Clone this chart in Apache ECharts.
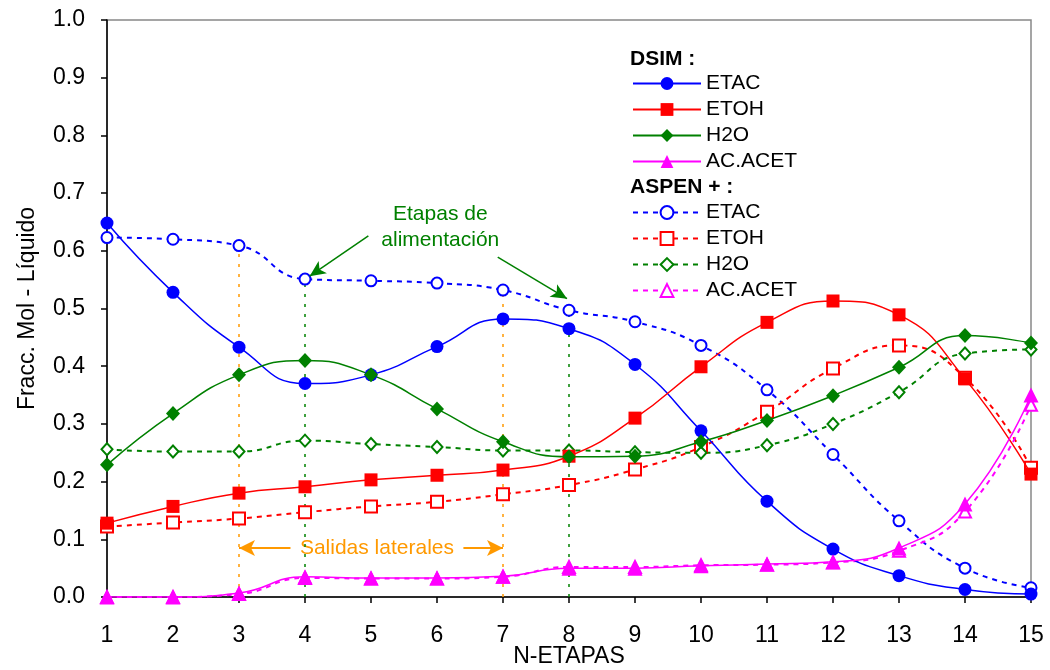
<!DOCTYPE html>
<html>
<head>
<meta charset="utf-8">
<script src="https://cdn.jsdelivr.net/npm/echarts@6/dist/echarts.min.js"></script>
<style>
  html, body { margin: 0; padding: 0; background: #fff; }
  #chart { width: 1050px; height: 670px; }
</style>
</head>
<body>
<div id="chart"></div>
<script>
// Etapas de la columna
const stages = [1, 2, 3, 4, 5, 6, 7, 8, 9, 10, 11, 12, 13, 14, 15];

// Perfiles de composición en fase líquida - DSIM
const dsimEtac = [0.648, 0.528, 0.433, 0.370, 0.385, 0.434, 0.482, 0.465, 0.403, 0.288, 0.166, 0.083, 0.037, 0.013, 0.005];
const dsimEtoh = [0.128, 0.157, 0.180, 0.191, 0.203, 0.211, 0.220, 0.244, 0.310, 0.399, 0.476, 0.513, 0.489, 0.378, 0.213];
const dsimH2o  = [0.229, 0.318, 0.385, 0.410, 0.385, 0.326, 0.269, 0.243, 0.244, 0.269, 0.306, 0.349, 0.398, 0.453, 0.440];
const dsimAcet = [0.000, 0.000, 0.007, 0.035, 0.033, 0.033, 0.036, 0.050, 0.050, 0.054, 0.057, 0.061, 0.085, 0.161, 0.350];

// Perfiles de composición en fase líquida - ASPEN +
const aspenEtac = [0.623, 0.620, 0.609, 0.551, 0.548, 0.544, 0.532, 0.497, 0.477, 0.436, 0.359, 0.247, 0.132, 0.050, 0.016];
const aspenEtoh = [0.122, 0.129, 0.136, 0.147, 0.157, 0.165, 0.178, 0.194, 0.221, 0.260, 0.321, 0.396, 0.436, 0.380, 0.224];
const aspenH2o  = [0.256, 0.252, 0.252, 0.271, 0.265, 0.260, 0.254, 0.254, 0.251, 0.250, 0.263, 0.300, 0.355, 0.422, 0.429];
const aspenAcet = [0.000, 0.000, 0.005, 0.033, 0.032, 0.032, 0.035, 0.052, 0.052, 0.055, 0.056, 0.060, 0.080, 0.148, 0.333];

// Etapas de salida lateral y de alimentación
const sideStages = [3, 7];
const feedStages = [4, 8];

// Nombres de componentes
const components = ['ETAC', 'ETOH', 'H2O', 'AC.ACET'];

const FONT = "'Liberation Sans', Arial, sans-serif";
const colors = ['#0000FF', '#FF0000', '#008000', '#FF00FF'];
const ORANGE = '#FF9900';

const pairs = arr => stages.map((s, i) => [s, arr[i]]);

const dsimSets = [dsimEtac, dsimEtoh, dsimH2o, dsimAcet];
const aspenSets = [aspenEtac, aspenEtoh, aspenH2o, aspenAcet];
const dsimSymbols = ['circle', 'rect', 'diamond', 'triangle'];
const dsimSizes = [13, 13, [14, 15], 15];
const aspenSymbols = ['emptyCircle', 'emptyRect', 'emptyDiamond', 'emptyTriangle'];
const aspenSizes = [11, 12, [11, 12], 12];

const series = [];

// vertical guides at side-draw and feed stages
function guide(stage, color) {
  const idx = stages.indexOf(stage);
  return {
    type: 'line', silent: true, symbol: 'none', z: 1,
    data: [[stage, 0], [stage, aspenEtac[idx]]],
    lineStyle: { color: color, width: 1.5, type: [3, 7] }
  };
}
sideStages.forEach(s => series.push(guide(s, ORANGE)));
feedStages.forEach(s => series.push(guide(s, '#008000')));

aspenSets.forEach((arr, i) => {
  series.push({
    name: 'ASPEN|' + components[i],
    type: 'line', smooth: 0.5, z: 2,
    symbol: aspenSymbols[i], symbolSize: aspenSizes[i],
    data: pairs(arr),
    lineStyle: { color: colors[i], width: 2, type: [5, 5] },
    itemStyle: { color: colors[i], borderWidth: 1.5 }
  });
});

dsimSets.forEach((arr, i) => {
  series.push({
    name: 'DSIM|' + components[i],
    type: 'line', smooth: 0.5, z: 3,
    symbol: dsimSymbols[i], symbolSize: dsimSizes[i],
    data: pairs(arr),
    lineStyle: { color: colors[i], width: 1.5, type: 'solid' },
    itemStyle: { color: colors[i] }
  });
});

// annotation arrows
series.push({
  type: 'line', silent: true, data: [], z: 4,
  markLine: {
    silent: true,
    symbol: ['none', 'arrow'],
    symbolSize: [11, 16],
    label: { show: false },
    emphasis: { disabled: true },
    lineStyle: { color: '#008000', width: 1.5, type: 'solid' },
    data: [
      [{ coord: [4.96, 0.626] }, { coord: [4.07, 0.556] }],
      [{ coord: [6.92, 0.589] }, { coord: [7.97, 0.517] }]
    ]
  }
});
series.push({
  type: 'line', silent: true, data: [], z: 4,
  markLine: {
    silent: true,
    symbol: ['none', 'arrow'],
    symbolSize: [12, 16],
    label: { show: false },
    emphasis: { disabled: true },
    lineStyle: { color: ORANGE, width: 2, type: 'solid' },
    data: [
      [{ coord: [3.78, 0.085] }, { coord: [3.0, 0.085] }],
      [{ coord: [6.40, 0.085] }, { coord: [7.0, 0.085] }]
    ]
  }
});

const legendBase = {
  orient: 'vertical', left: 632, padding: 0,
  itemWidth: 68, itemHeight: 16, itemGap: 5,
  selectedMode: false,
  textStyle: { fontFamily: FONT, fontSize: 21, color: '#000' },
  formatter: n => n.split('|')[1]
};

const chart = echarts.init(document.getElementById('chart'), null, { renderer: 'canvas' });

chart.setOption({
  animation: false,
  backgroundColor: '#fff',
  textStyle: { fontFamily: FONT },
  grid: {
    left: 107, right: 19, top: 20, bottom: 73,
    containLabel: false, outerBoundsMode: 'none',
    show: true, borderColor: '#888', borderWidth: 1.5
  },
  legend: [
    Object.assign({}, legendBase, { top: 73, data: components.map(c => 'DSIM|' + c) }),
    Object.assign({}, legendBase, { top: 202, data: components.map(c => 'ASPEN|' + c) })
  ],
  xAxis: {
    type: 'value', min: 1, max: 15, interval: 1,
    name: 'N-ETAPAS', nameLocation: 'middle', nameGap: 48, nameMoveOverlap: false,
    nameTextStyle: { fontFamily: FONT, fontSize: 23, color: '#000' },
    axisLine: { lineStyle: { color: '#000', width: 1.5 } },
    axisTick: { inside: false, length: 6, lineStyle: { color: '#000', width: 1.5 } },
    axisLabel: { margin: 27, fontFamily: FONT, fontSize: 23, color: '#000' },
    splitLine: { show: false }
  },
  yAxis: {
    type: 'value', min: 0, max: 1, interval: 0.1,
    name: 'Fracc. Mol - Líquido', nameLocation: 'middle', nameGap: 68, nameMoveOverlap: false,
    nameTextStyle: { fontFamily: FONT, fontSize: 23, color: '#000' },
    axisLine: { show: true, lineStyle: { color: '#000', width: 1.5 } },
    axisTick: { show: true, inside: false, length: 6, lineStyle: { color: '#000', width: 1.5 } },
    axisLabel: { margin: 22, fontFamily: FONT, fontSize: 23, color: '#000', formatter: v => v.toFixed(1) },
    splitLine: { show: false }
  },
  series: series
});

// text labels placed in data coordinates
const toPx = p => chart.convertToPixel({ gridIndex: 0 }, p);
const feedPos = toPx([6.05, 0.641]);
const sidePos = toPx([5.09, 0.085]);

chart.setOption({
  graphic: [
    {
      type: 'text', left: 630, top: 49,
      style: { text: 'DSIM :', font: "bold 21px 'Liberation Sans', Arial, sans-serif", fill: '#000' }
    },
    {
      type: 'text', left: 630, top: 177,
      style: { text: 'ASPEN + :', font: "bold 21px 'Liberation Sans', Arial, sans-serif", fill: '#000' }
    },
    {
      type: 'text', x: feedPos[0], y: feedPos[1],
      style: {
        text: 'Etapas de\nalimentación', align: 'center', verticalAlign: 'middle',
        lineHeight: 26, font: "21px 'Liberation Sans', Arial, sans-serif", fill: '#008000'
      }
    },
    {
      type: 'text', x: sidePos[0], y: sidePos[1],
      style: {
        text: 'Salidas laterales', align: 'center', verticalAlign: 'middle',
        font: "21px 'Liberation Sans', Arial, sans-serif", fill: ORANGE
      }
    }
  ]
});
</script>
</body>
</html>
